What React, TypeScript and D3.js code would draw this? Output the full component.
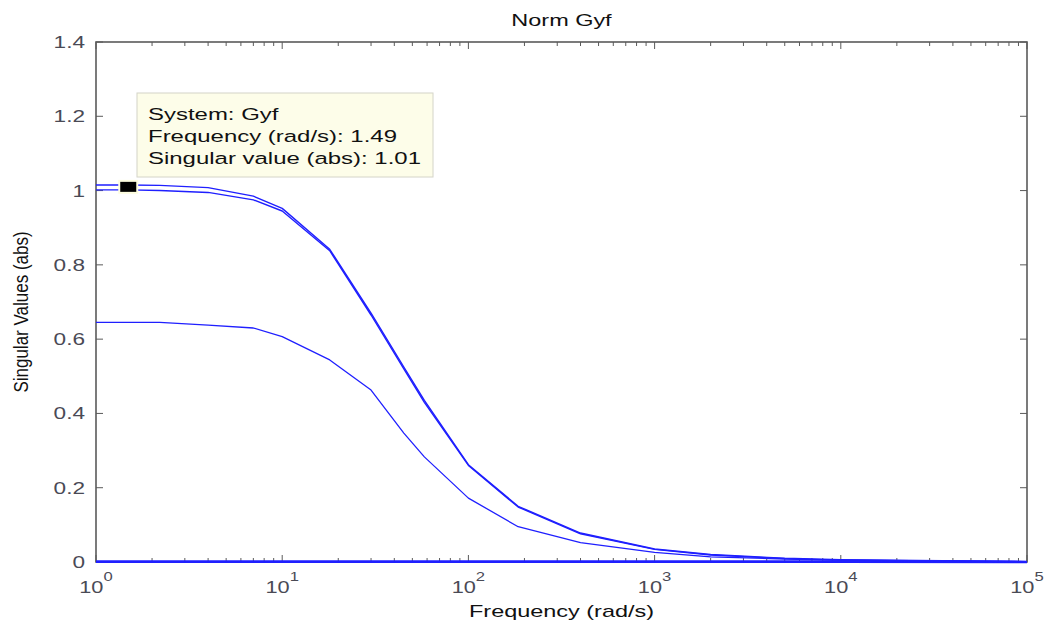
import React from 'react';
import * as d3 from 'd3';

// Frequencies (rad/s) at which singular values were read
const freq = [1, 1.49, 2.2, 4, 7, 10, 18, 30, 45, 58, 100, 185, 400, 1000, 2000, 5000, 10000, 100000];
// Singular value 1 (largest)
const sv1 = [1.015, 1.015, 1.014, 1.008, 0.985, 0.952, 0.842, 0.67, 0.525, 0.435, 0.262, 0.15, 0.078, 0.035, 0.02, 0.01, 0.006, 0.001];
// Singular value 2
const sv2 = [1.002, 1.002, 1.0, 0.995, 0.975, 0.945, 0.838, 0.665, 0.52, 0.43, 0.26, 0.148, 0.076, 0.034, 0.019, 0.009, 0.005, 0.001];
// Singular value 3
const sv3 = [0.645, 0.645, 0.645, 0.638, 0.63, 0.607, 0.544, 0.463, 0.347, 0.283, 0.172, 0.095, 0.052, 0.026, 0.014, 0.008, 0.005, 0.001];
// Singular value 4 (near zero)
const sv4 = [0.001, 0.001, 0.001, 0.001, 0.001, 0.001, 0.001, 0.001, 0.001, 0.001, 0.001, 0.001, 0.001, 0.001, 0.001, 0.001, 0.001, 0.0];

const yTicks = [0, 0.2, 0.4, 0.6, 0.8, 1, 1.2, 1.4];
const yTickLabels = ['0', '0.2', '0.4', '0.6', '0.8', '1', '1.2', '1.4'];
const xDecades = [0, 1, 2, 3, 4, 5];

const titleText = 'Norm Gyf';
const xLabel = 'Frequency (rad/s)';
const yLabel = 'Singular Values (abs)';
const tipLines = ['System: Gyf', 'Frequency (rad/s): 1.49', 'Singular value (abs): 1.01'];
const markerFreq = 1.49;
const markerValue = 1.01;

const W = 1047;
const H = 628;
const M = { left: 96, right: 20, top: 42, bottom: 66 };
const FONT = "'Liberation Sans', Arial, Helvetica, sans-serif";
const SX = 1.38;

export default function App() {
  const x = d3.scaleLog().domain([1, 100000]).range([M.left, W - M.right]);
  const y = d3.scaleLinear().domain([0, 1.4]).range([H - M.bottom, M.top]);
  const x0 = M.left, x1 = W - M.right, y0 = H - M.bottom, y1 = M.top;

  const line = d3
    .line<number>()
    .x((_, i) => x(freq[i]))
    .y((d) => y(d));

  const allTicks = x.ticks();
  const blue = '#1f1fff';
  const axisColor = '#5a5a5a';
  const labelColor = '#4a4a55';

  return (
    <svg
      width={W}
      height={H}
      style={{ position: 'absolute', left: 0, top: 0, display: 'block', background: '#fff' }}
      fontFamily={FONT}
    >
      <rect x={0} y={0} width={W} height={H} fill="#fff" />
      {/* title */}
      <text transform={`translate(${(x0 + x1) / 2},26) scale(${SX},1)`} textAnchor="middle" fontSize={17} fill="#111">
        {titleText}
      </text>

      {/* box */}
      <rect x={x0} y={y1} width={x1 - x0} height={y0 - y1} fill="none" stroke={axisColor} strokeWidth={1.6} />

      {/* x ticks */}
      {allTicks.map((t, i) => {
        const major = Math.abs(Math.log10(t) - Math.round(Math.log10(t))) < 1e-9;
        const len = major ? 7 : 4;
        const xx = x(t);
        return (
          <g key={'xt' + i} stroke={axisColor} strokeWidth={1}>
            <line x1={xx} x2={xx} y1={y0} y2={y0 - len} />
            <line x1={xx} x2={xx} y1={y1} y2={y1 + len} />
          </g>
        );
      })}

      {/* y ticks */}
      {yTicks.map((t, i) => (
        <g key={'yt' + i} stroke={axisColor} strokeWidth={1}>
          <line x1={x0} x2={x0 + 7} y1={y(t)} y2={y(t)} />
          <line x1={x1} x2={x1 - 7} y1={y(t)} y2={y(t)} />
        </g>
      ))}

      {/* y tick labels */}
      {yTicks.map((t, i) => (
        <text
          key={'yl' + i}
          transform={`translate(${x0 - 11},${y(t) + 6}) scale(1.33,1)`}
          textAnchor="end"
          fontSize={17}
          fill={labelColor}
        >
          {yTickLabels[i]}
        </text>
      ))}

      {/* x tick labels */}
      {xDecades.map((k) => (
        <text
          key={'xl' + k}
          transform={`translate(${x(Math.pow(10, k))},593) scale(1.28,1)`}
          textAnchor="middle"
          fontSize={17}
          fill={labelColor}
        >
          <tspan>10</tspan>
          <tspan dy={-12} fontSize={13}>
            {k}
          </tspan>
        </text>
      ))}

      {/* axis labels */}
      <text transform={`translate(${(x0 + x1) / 2},617) scale(${SX},1)`} textAnchor="middle" fontSize={17} fill="#111">
        {xLabel}
      </text>
      <text
        transform={`translate(28,${(y0 + y1) / 2 + 10}) rotate(-90) scale(1,1.22)`}
        textAnchor="middle"
        fontSize={17}
        fill="#111"
      >
        {yLabel}
      </text>

      {/* curves */}
      <g fill="none" stroke={blue} strokeLinejoin="round">
        <path d={line(sv4) || ''} strokeWidth={2.6} />
        <path d={line(sv3) || ''} strokeWidth={1.3} />
        <path d={line(sv2) || ''} strokeWidth={1.4} />
        <path d={line(sv1) || ''} strokeWidth={1.4} />
      </g>

      {/* data tip */}
      <rect x={137} y={93} width={296} height={84} fill="#fdfde9" stroke="#d4d4c8" strokeWidth={1} />
      {tipLines.map((s, i) => (
        <text
          key={'tip' + i}
          transform={`translate(148,${120 + i * 22}) scale(1.41,1)`}
          fontSize={17}
          fill="#111"
        >
          {s}
        </text>
      ))}
      <rect
        x={x(markerFreq) - 9}
        y={y(markerValue) - 6}
        width={18}
        height={12}
        fill="#000"
        stroke="#fdfde0"
        strokeWidth={2}
      />
    </svg>
  );
}
